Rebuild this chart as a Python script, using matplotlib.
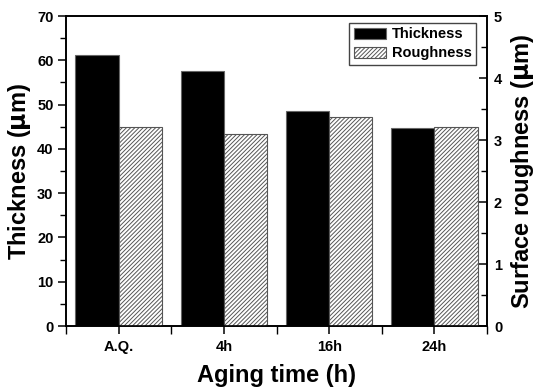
import numpy as np
import matplotlib.pyplot as plt
from matplotlib.ticker import MultipleLocator

plt.rcParams['font.family'] = ['Liberation Sans', 'DejaVu Sans']
plt.rcParams['font.weight'] = 'bold'
plt.rcParams['hatch.linewidth'] = 0.7
plt.rcParams['hatch.color'] = '#333333'

# data
categories = ['A.Q.', '4h', '16h', '24h']
thickness = [61.1, 57.5, 48.5, 44.6]
roughness = [3.21, 3.09, 3.37, 3.21]

x = np.arange(1, len(categories) + 1)
w = 0.41

fig = plt.figure(figsize=(5.35, 3.92), dpi=100)
ax = fig.add_axes([66 / 535, 1 - 326 / 392, 421 / 535, 310 / 392])
ax2 = ax.twinx()

b1 = ax.bar(x - w / 2, thickness, w, color='black', edgecolor='#666666', linewidth=0.8, label='Thickness')
b2 = ax2.bar(x + w / 2, roughness, w, color='white', edgecolor='#555555', hatch='////////',
             linewidth=0.8, label='Roughness')

ax.set_xlim(0.5, 4.5)
ax.set_ylim(0, 70)
ax2.set_ylim(0, 5)

ax.set_xticks(x)
ax.set_xticklabels(categories)
ax.set_xticks(np.arange(0.5, 4.6, 1.0), minor=True)
ax.yaxis.set_major_locator(MultipleLocator(10))
ax.yaxis.set_minor_locator(MultipleLocator(5))
ax2.yaxis.set_major_locator(MultipleLocator(1))
ax2.yaxis.set_minor_locator(MultipleLocator(0.5))

for a in (ax, ax2):
    for s in a.spines.values():
        s.set_linewidth(1.2)
ax.tick_params(which='major', direction='out', length=6, width=1.1, labelsize=10.5, pad=3)
ax.tick_params(which='minor', direction='out', length=4, width=1.0)
ax.tick_params(axis='x', which='both', length=6, pad=4)
ax2.tick_params(which='major', direction='in', length=6, width=1.1, labelsize=10.5, pad=5)
ax2.tick_params(which='minor', direction='in', length=4, width=1.0)

ax.set_xlabel('Aging time (h)', fontsize=17, fontweight='bold', labelpad=7)
ax.set_ylabel('Thickness ($\\mathbf{\\mu}$m)', fontsize=17, fontweight='bold', labelpad=3)
ax2.set_ylabel('Surface roughness ($\\mathbf{\\mu}$m)', fontsize=17, fontweight='bold', labelpad=5)

leg = ax.legend([b1, b2], ['Thickness', 'Roughness'], loc='upper right', fontsize=10.5,
                frameon=True, fancybox=False, edgecolor='#444444', framealpha=1,
                bbox_to_anchor=(476 / 535, 1 - 23 / 392), bbox_transform=fig.transFigure,
                borderaxespad=0, handlelength=2.2, handleheight=0.8, borderpad=0.3,
                labelspacing=0.35, handletextpad=0.4)
leg.get_frame().set_linewidth(1.0)

fig.savefig('out.png', dpi=100)
